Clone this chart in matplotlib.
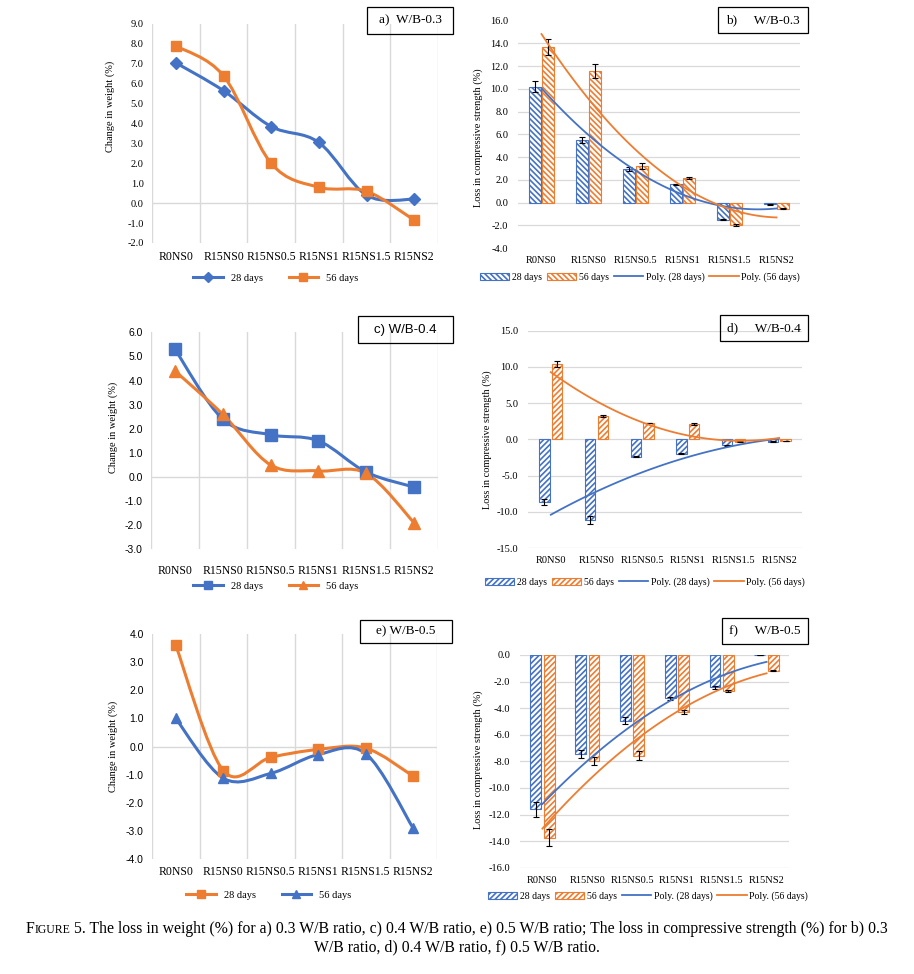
import numpy as np
import matplotlib
matplotlib.use('Agg')
import matplotlib.pyplot as plt
from matplotlib.path import Path
from matplotlib.patches import PathPatch, Rectangle, Patch
from matplotlib.lines import Line2D
from matplotlib.ticker import FormatStrFormatter

plt.rcParams['font.family'] = ['Liberation Serif', 'DejaVu Serif']
plt.rcParams['hatch.linewidth'] = 1.2

W, H = 914, 974
BLUE = '#4472C4'
ORANGE = '#ED7D31'
GRID = '#D9D9D9'
SANS = ['Liberation Sans', 'DejaVu Sans']

categories = ['R0NS0', 'R15NS0', 'R15NS0.5', 'R15NS1', 'R15NS1.5', 'R15NS2']

# Change in weight (%)
wa_28 = [7.05, 5.65, 3.85, 3.05, 0.4, 0.2]
wa_56 = [7.9, 6.4, 2.0, 0.8, 0.6, -0.85]
wc_28 = [5.3, 2.4, 1.75, 1.5, 0.2, -0.42]
wc_56 = [4.4, 2.6, 0.5, 0.25, 0.15, -1.9]
we_28 = [3.6, -0.85, -0.38, -0.1, -0.05, -1.05]
we_56 = [1.0, -1.12, -0.95, -0.28, -0.25, -2.9]

# Loss in compressive strength (%)
sb_28 = [10.2, 5.5, 2.95, 1.6, -1.5, -0.15]
sb_28_err = [0.5, 0.25, 0.15, 0.05, 0.08, 0.05]
sb_56 = [13.7, 11.6, 3.2, 2.15, -1.95, -0.55]
sb_56_err = [0.7, 0.6, 0.25, 0.08, 0.1, 0.05]
sd_28 = [-8.7, -11.2, -2.4, -2.0, -0.8, -0.3]
sd_28_err = [0.4, 0.55, 0.05, 0.05, 0.05, 0.05]
sd_56 = [10.4, 3.2, 2.25, 2.1, -0.3, -0.2]
sd_56_err = [0.4, 0.1, 0.05, 0.1, 0.03, 0.03]
sf_28 = [-11.6, -7.47, -4.94, -3.26, -2.43, 0.0]
sf_28_err = [0.55, 0.3, 0.25, 0.1, 0.1, 0.0]
sf_56 = [-13.73, -7.94, -7.57, -4.26, -2.7, -1.18]
sf_56_err = [0.65, 0.3, 0.35, 0.15, 0.1, 0.05]

fig = plt.figure(figsize=(W / 100, H / 100), dpi=100)


def px_axes(left, right, top, bottom):
    return fig.add_axes([left / W, 1 - bottom / H, (right - left) / W, (bottom - top) / H])


def smooth_path(xs, ys):
    pts = np.column_stack([xs, ys]).astype(float)
    n = len(pts)
    verts = [pts[0]]
    codes = [Path.MOVETO]
    for i in range(n - 1):
        p0 = pts[i - 1] if i > 0 else pts[i]
        p1 = pts[i]
        p2 = pts[i + 1]
        p3 = pts[i + 2] if i + 2 < n else pts[i + 1]
        verts += [p1 + (p2 - p0) / 6, p2 - (p3 - p1) / 6, p2]
        codes += [Path.CURVE4] * 3
    return Path(verts, codes)


def label_box(x0, y0, x1, y1, text, family=None, size=9.5, cx=None):
    fig.patches.append(Rectangle((x0 / W, 1 - y1 / H), (x1 - x0) / W, (y1 - y0) / H,
                                 transform=fig.transFigure, fill=False,
                                 edgecolor='black', lw=0.9))
    cx = (x0 + x1) / 2 if cx is None else cx
    kw = {} if family is None else {'family': family}
    fig.text(cx / W, 1 - (y0 + y1) / 2 / H, text, ha='center', va='center',
             fontsize=size, **kw)


def weight_panel(rect, series, ylim, yticks, ylab_xy, pad, legend_xy, tickfam=None):
    ax = px_axes(*rect)
    x = np.arange(len(categories))
    handles = []
    for ys, col, mk, ms, lab in series:
        ax.add_patch(PathPatch(smooth_path(x, ys), fill=False, edgecolor=col,
                               lw=2.2, capstyle='round', zorder=3))
        ax.plot(x, ys, linestyle='none', marker=mk, color=col, ms=ms, zorder=4)
        handles.append(Line2D([], [], color=col, lw=2.2, marker=mk, ms=ms * 0.8, label=lab))
    ax.set_xlim(-0.5, 5.5)
    ax.set_ylim(*ylim)
    ax.set_yticks(yticks)
    ax.yaxis.set_major_formatter(FormatStrFormatter('%.1f'))
    for s in ax.spines.values():
        s.set_visible(False)
    ax.axhline(0, color=GRID, lw=1.0, zorder=1)
    for xv in np.arange(-0.5, 6, 1):
        ax.axvline(xv, color=GRID, lw=1.0, zorder=1)
    ax.set_xticks(x)
    ax.set_xticklabels(categories)
    ax.tick_params(axis='x', length=0, labelsize=8.5, pad=pad)
    ax.tick_params(axis='y', length=0, labelsize=7.5, pad=6)
    if tickfam is not None:
        for t in ax.get_yticklabels():
            t.set_family(tickfam)
    ax.set_ylabel('Change in weight (%)', fontsize=7.5)
    ax.yaxis.set_label_coords(*ylab_xy)
    fig.legend(handles=handles, loc='center', ncol=2, frameon=False, fontsize=7.5,
               handlelength=2.8, columnspacing=2.5,
               bbox_to_anchor=(legend_xy[0] / W, 1 - legend_xy[1] / H))
    return ax


def strength_panel(rect, s1, e1, s2, e2, ylim, yticks, gridvals, hatch, bw, off,
                   ylab_xy, legend_xy):
    ax = px_axes(*rect)
    x = np.arange(len(categories))
    ekw = dict(elinewidth=0.8, capthick=0.8, ecolor='black')
    ax.bar(x - off, s1, bw, yerr=e1, color='white', edgecolor=BLUE, hatch=hatch,
           lw=0.8, capsize=2.5, error_kw=ekw, zorder=2)
    ax.bar(x + off, s2, bw, yerr=e2, color='white', edgecolor=ORANGE, hatch=hatch,
           lw=0.8, capsize=2.5, error_kw=ekw, zorder=2)
    xx = np.linspace(0, 5, 120)
    ax.plot(xx, np.polyval(np.polyfit(x, s1, 2), xx), color=BLUE, lw=1.3, zorder=3)
    ax.plot(xx, np.polyval(np.polyfit(x, s2, 2), xx), color=ORANGE, lw=1.3, zorder=3)
    for g in gridvals:
        ax.axhline(g, color=GRID, lw=0.9, zorder=1)
    ax.set_xlim(-0.5, 5.5)
    ax.set_ylim(*ylim)
    ax.set_yticks(yticks)
    ax.yaxis.set_major_formatter(FormatStrFormatter('%.1f'))
    for s in ax.spines.values():
        s.set_visible(False)
    ax.set_xticks(x)
    ax.set_xticklabels(categories)
    ax.tick_params(axis='x', length=0, labelsize=7.5, pad=6)
    ax.tick_params(axis='y', length=0, labelsize=7.5, pad=7)
    ax.set_ylabel('Loss in compressive strength (%)', fontsize=7.5)
    ax.yaxis.set_label_coords(*ylab_xy)
    handles = [
        Patch(facecolor='white', edgecolor=BLUE, hatch=hatch, lw=0.8, label='28 days'),
        Patch(facecolor='white', edgecolor=ORANGE, hatch=hatch, lw=0.8, label='56 days'),
        Line2D([], [], color=BLUE, lw=1.3, label='Poly. (28 days)'),
        Line2D([], [], color=ORANGE, lw=1.3, label='Poly. (56 days)'),
    ]
    fig.legend(handles=handles, loc='center', ncol=4, frameon=False, fontsize=7,
               handlelength=3.0, handletextpad=0.3, columnspacing=0.5,
               bbox_to_anchor=(legend_xy[0] / W, 1 - legend_xy[1] / H))
    return ax


# a) W/B-0.3
weight_panel((152, 438, 24, 243),
             [(wa_28, BLUE, 'D', 6, '28 days'), (wa_56, ORANGE, 's', 7.5, '56 days')],
             (-2, 9), np.arange(-2, 9.01, 1), (-0.13, 0.625), 6, (276, 278))
label_box(367, 7, 453, 34, 'a)  W/B-0.3')

# c) W/B-0.4
weight_panel((151, 438, 332.3, 549.3),
             [(wc_28, BLUE, 's', 8, '28 days'), (wc_56, ORANGE, '^', 8, '56 days')],
             (-3, 6), np.arange(-3, 6.01, 1), (-0.115, 0.56), 11, (276, 586), tickfam=SANS)
label_box(358, 316, 453, 343, 'c) W/B-0.4', family=SANS, size=9.5)

# e) W/B-0.5
weight_panel((152, 437, 634, 859.3),
             [(we_28, ORANGE, 's', 7.5, '28 days'), (we_56, BLUE, '^', 7.5, '56 days')],
             (-4, 4), np.arange(-4, 4.01, 1), (-0.12, 0.503), 5, (269, 895), tickfam=SANS)
label_box(360, 620, 452, 643, 'e) W/B-0.5')

# b) W/B-0.3
strength_panel((518, 800, 20.7, 248), sb_28, sb_28_err, sb_56, sb_56_err,
               (-4, 16), np.arange(-4, 16.01, 2), np.arange(-2, 14.01, 2),
               '\\\\\\\\\\\\', 0.25, 0.14, (-0.124, 0.484), (640, 277))
label_box(718, 7, 808, 33, 'b)     W/B-0.3')

# d) W/B-0.4
strength_panel((528, 802, 330.7, 548), sd_28, sd_28_err, sd_56, sd_56_err,
               (-15, 15), np.arange(-15, 15.01, 5), np.arange(-15, 15.01, 5),
               '//////', 0.23, 0.14, (-0.131, 0.497), (645, 582))
label_box(720, 315, 808, 341, 'd)     W/B-0.4')

# f) W/B-0.5
strength_panel((520, 789, 655, 867.7), sf_28, sf_28_err, sf_56, sf_56_err,
               (-16, 0), np.arange(-16, 0.01, 2), np.arange(-16, 0.01, 2),
               '//////', 0.24, 0.15, (-0.138, 0.506), (648, 896))
label_box(722, 618, 808, 644, 'f)     W/B-0.5')

# Caption with small caps "FIGURE"
cap_size = 11.3
pieces = [('F', cap_size), ('IGURE', cap_size * 0.75),
          (' 5. The loss in weight (%) for a) 0.3 W/B ratio, c) 0.4 W/B ratio, e) 0.5 W/B ratio; '
           'The loss in compressive strength (%) for b) 0.3', cap_size)]
renderer = fig.canvas.get_renderer()
texts = []
for s, fs in pieces:
    t = fig.text(0, 1 - 933 / H, s, fontsize=fs, ha='left', va='baseline')
    texts.append(t)
widths = [t.get_window_extent(renderer).width for t in texts]
x0 = (W - sum(widths)) / 2
for t, w in zip(texts, widths):
    t.set_x(x0 / W)
    x0 += w
fig.text(0.5, 1 - 951 / H, 'W/B ratio, d) 0.4 W/B ratio, f) 0.5 W/B ratio.',
         fontsize=cap_size, ha='center', va='baseline')

fig.savefig('out.png', dpi=100)
